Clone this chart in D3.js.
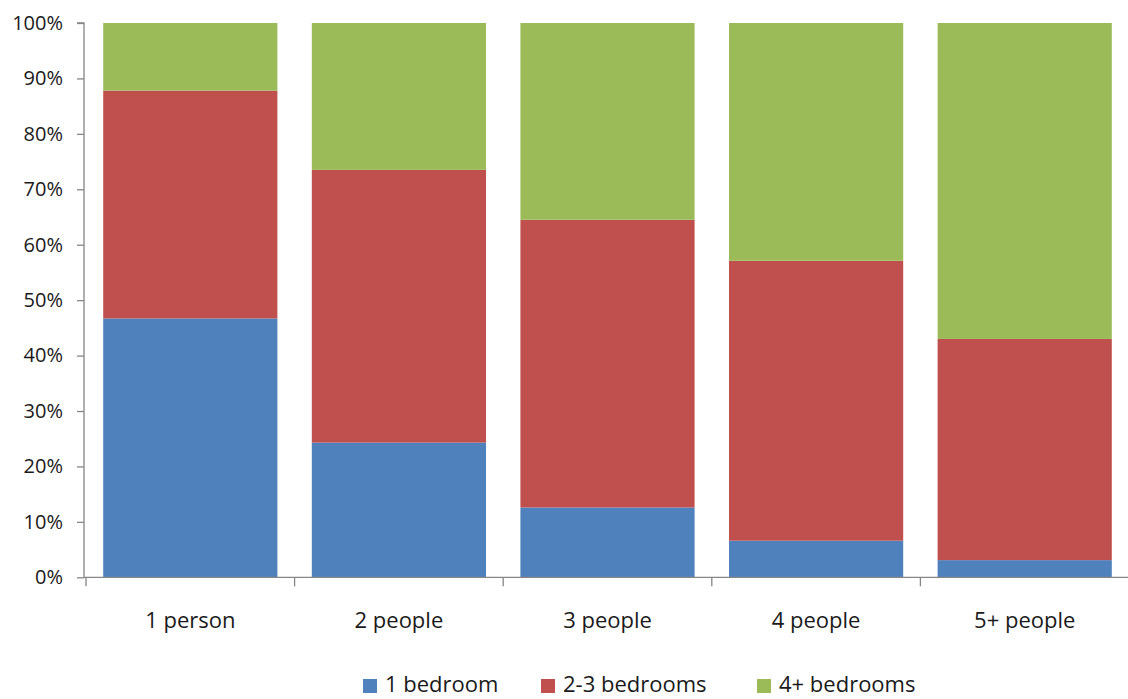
<!DOCTYPE html>
<html>
<head>
<meta charset="utf-8">
<script src="https://cdn.jsdelivr.net/npm/d3@7"></script>
<style>
  html, body { margin: 0; padding: 0; background: #fff; }
  svg { display: block; }
  text { font-family: "Open Sans", sans-serif; fill: #1a1a1a; }
</style>
</head>
<body>
<svg id="chart" width="1128" height="699"></svg>
<script>
const categories = ["1 person", "2 people", "3 people", "4 people", "5+ people"];
const seriesNames = ["1 bedroom", "2-3 bedrooms", "4+ bedrooms"];
const oneBedroom = [46.7, 24.3, 12.6, 6.6, 3.1];
const twoThreeBedrooms = [41.1, 49.2, 51.9, 50.5, 39.9];
const fourPlusBedrooms = [12.2, 26.5, 35.5, 42.9, 57.0];
const yTicks = [0, 10, 20, 30, 40, 50, 60, 70, 80, 90, 100];
const colors = ["#4F81BD", "#C0504D", "#9BBB59"];

const rows = categories.map((c, i) => ({
  cat: c,
  "1 bedroom": oneBedroom[i],
  "2-3 bedrooms": twoThreeBedrooms[i],
  "4+ bedrooms": fourPlusBedrooms[i]
}));

const svg = d3.select("#chart");
const axisColor = "#868686";
const x0 = 84, x1 = 1128, yBottom = 577.3, yTop = 23;

const x = d3.scaleBand().domain(categories).range([86, 1129]).paddingInner(0.165).paddingOuter(0.0825);
const y = d3.scaleLinear().domain([0, 100]).range([yBottom, yTop]);
const color = d3.scaleOrdinal().domain(seriesNames).range(colors);

const stacked = d3.stack().keys(seriesNames)(rows);

const g = svg.append("g");
g.selectAll("g.series").data(stacked).join("g")
  .attr("class", "series")
  .attr("fill", d => color(d.key))
  .selectAll("rect").data(d => d).join("rect")
  .attr("x", d => x(d.data.cat))
  .attr("width", x.bandwidth())
  .attr("y", d => y(d[1]))
  .attr("height", d => y(d[0]) - y(d[1]));

// Y axis
const yAxis = d3.axisLeft(y).tickValues(yTicks).tickFormat(d => d + "%").tickSize(7).tickPadding(14);
const yg = svg.append("g").attr("transform", `translate(${x0},0)`).call(yAxis);
yg.select(".domain").attr("stroke", axisColor).attr("stroke-width", 1.3).attr("d", `M-7,${yTop}H0V${yBottom}`);
yg.selectAll(".tick line").attr("stroke", axisColor).attr("stroke-width", 1.3);
yg.selectAll(".tick text").attr("font-size", 20).attr("font-family", "Open Sans, sans-serif").attr("fill", "#1a1a1a");

// X axis line and ticks
const xg = svg.append("g");
xg.append("line").attr("x1", x0).attr("x2", x1).attr("y1", yBottom).attr("y2", yBottom)
  .attr("stroke", axisColor).attr("stroke-width", 1.3);
const step = x.step();
const boundaries = categories.map(c => x(c) - x.paddingInner() * step / 2)
  .concat([x(categories[categories.length - 1]) + x.bandwidth() + x.paddingInner() * step / 2]);
xg.selectAll("line.tk").data(boundaries).join("line").attr("class", "tk")
  .attr("x1", d => d).attr("x2", d => d).attr("y1", yBottom).attr("y2", yBottom + 9)
  .attr("stroke", axisColor).attr("stroke-width", 1.3);
xg.selectAll("text").data(categories).join("text")
  .attr("x", d => x(d) + x.bandwidth() / 2)
  .attr("y", 628)
  .attr("text-anchor", "middle")
  .attr("font-size", 22)
  .text(d => d);

// Legend
const legendX = [363, 541, 757];
const legend = svg.append("g");
seriesNames.forEach((name, i) => {
  legend.append("rect").attr("x", legendX[i]).attr("y", 679).attr("width", 14).attr("height", 14).attr("fill", colors[i]);
  legend.append("text").attr("x", legendX[i] + 22).attr("y", 692).attr("font-size", 22).text(name);
});
</script>
</body>
</html>
